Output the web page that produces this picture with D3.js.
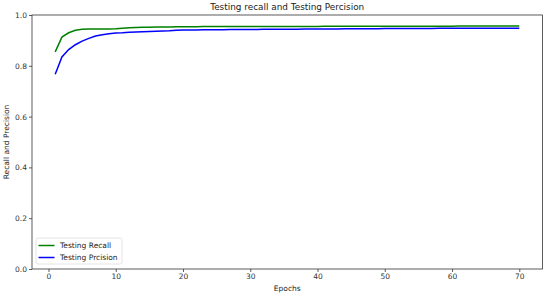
<!DOCTYPE html>
<html>
<head>
<meta charset="utf-8">
<script src="https://cdn.jsdelivr.net/npm/d3@7"></script>
<style>
	body { margin: 0; background: #fff; }
	text { font-family: "DejaVu Sans", sans-serif; }
</style>
</head>
<body>
<div id="chart"></div>
<script>
let epochs = d3.range(1, 71)
let recall = [
	0.855, 0.913, 0.930, 0.940, 0.944, 0.945, 0.945, 0.945, 0.945, 0.946,
	0.948, 0.950, 0.951, 0.952, 0.952, 0.953, 0.953, 0.953, 0.954, 0.954,
	0.954, 0.954, 0.955, 0.955, 0.955, 0.955, 0.955, 0.955, 0.955, 0.955,
	0.955, 0.955, 0.955, 0.955, 0.955, 0.955, 0.955, 0.955, 0.955, 0.955,
	0.956, 0.956, 0.956, 0.956, 0.956, 0.956, 0.956, 0.956, 0.956, 0.956,
	0.956, 0.956, 0.956, 0.956, 0.956, 0.956, 0.956, 0.956, 0.956, 0.956,
	0.957, 0.957, 0.957, 0.957, 0.957, 0.957, 0.957, 0.957, 0.957, 0.957
]
let precision = [
	0.767, 0.835, 0.864, 0.883, 0.897, 0.908, 0.917, 0.922, 0.926, 0.929,
	0.930, 0.932, 0.933, 0.934, 0.935, 0.936, 0.937, 0.938, 0.940, 0.941,
	0.941, 0.941, 0.942, 0.942, 0.942, 0.942, 0.943, 0.943, 0.943, 0.943,
	0.943, 0.944, 0.944, 0.944, 0.944, 0.944, 0.944, 0.945, 0.945, 0.945,
	0.945, 0.945, 0.945, 0.946, 0.946, 0.946, 0.946, 0.946, 0.946, 0.947,
	0.947, 0.947, 0.947, 0.947, 0.947, 0.947, 0.947, 0.948, 0.948, 0.948,
	0.948, 0.948, 0.948, 0.948, 0.948, 0.948, 0.948, 0.948, 0.948, 0.948
]
let xTicks = [0, 10, 20, 30, 40, 50, 60, 70]
let yTicks = [0.0, 0.2, 0.4, 0.6, 0.8, 1.0]
let seriesNames = ["Testing Recall", "Testing Prcision"]
let seriesColors = ["green", "blue"]

let dimensions = {width: 546, height: 296, margin: {left: 32, top: 15, right: 3.5, bottom: 27}}
let innerW = dimensions.width - dimensions.margin.left - dimensions.margin.right
let innerH = dimensions.height - dimensions.margin.top - dimensions.margin.bottom

let xScale = d3.scaleLinear().domain([-2.45, 73.45]).range([0, innerW])
let yScale = d3.scaleLinear().domain([0, 1]).range([innerH, 0])

let svg = d3.select("#chart")
	.append("svg")
	.attr("width", dimensions.width)
	.attr("height", dimensions.height)

let g = svg.append("g")
	.attr("transform", `translate(${dimensions.margin.left},${dimensions.margin.top})`)

let xAxis = d3.axisBottom(xScale).tickValues(xTicks).tickSize(3).tickPadding(2).tickFormat(d3.format("d"))
let yAxis = d3.axisLeft(yScale).tickValues(yTicks).tickSize(3).tickPadding(2).tickFormat(d3.format(".1f"))

g.append("g")
	.attr("transform", `translate(0,${innerH})`)
	.call(xAxis)
	.call(a => a.select(".domain").remove())
g.append("g")
	.call(yAxis)
	.call(a => a.select(".domain").remove())

g.selectAll(".tick text").attr("font-size", 7.5).attr("fill", "#333")
g.selectAll(".tick line").attr("stroke", "#333").attr("stroke-width", 0.8)

// spines
g.append("rect")
	.attr("width", innerW)
	.attr("height", innerH)
	.attr("fill", "none")
	.attr("stroke", "#333")
	.attr("stroke-width", 0.8)

let line = d3.line()
	.x((d, i) => xScale(epochs[i]))
	.y(d => yScale(d))

g.selectAll("path.series")
	.data([recall, precision])
	.enter()
	.append("path")
	.classed("series", true)
	.attr("d", line)
	.attr("fill", "none")
	.attr("stroke", (d, i) => seriesColors[i])
	.attr("stroke-width", 1.5)

// title and labels
svg.append("text")
	.attr("x", dimensions.margin.left + innerW / 2)
	.attr("y", 10)
	.attr("text-anchor", "middle")
	.attr("font-size", 8.9)
	.attr("fill", "#222")
	.text("Testing recall and Testing Percision")

svg.append("text")
	.attr("x", dimensions.margin.left + innerW / 2)
	.attr("y", 291)
	.attr("text-anchor", "middle")
	.attr("font-size", 7.5)
	.attr("fill", "#222")
	.text("Epochs")

svg.append("text")
	.attr("transform", `translate(9,${dimensions.margin.top + innerH / 2}) rotate(-90)`)
	.attr("text-anchor", "middle")
	.attr("font-size", 7.5)
	.attr("fill", "#222")
	.text("Recall and Precision")

// legend
let legend = g.append("g").attr("transform", `translate(4,${innerH - 31})`)
legend.append("rect")
	.attr("width", 86)
	.attr("height", 26)
	.attr("rx", 2)
	.attr("fill", "#fff")
	.attr("stroke", "#ddd")
	.attr("stroke-width", 0.8)
let items = legend.selectAll("g.item")
	.data(seriesNames)
	.enter()
	.append("g")
	.classed("item", true)
	.attr("transform", (d, i) => `translate(2.5,${7.5 + i * 12})`)
items.append("line")
	.attr("x1", 0).attr("x2", 16)
	.attr("stroke", (d, i) => seriesColors[i])
	.attr("stroke-width", 1.5)
items.append("text")
	.attr("x", 21.5)
	.attr("dy", "0.35em")
	.attr("font-size", 7.5)
	.attr("fill", "#222")
	.text(d => d)
</script>
</body>
</html>
